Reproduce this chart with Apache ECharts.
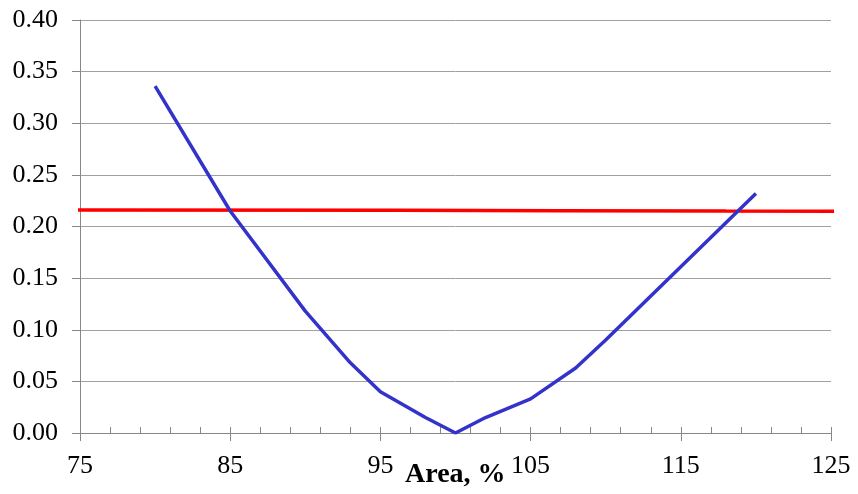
<!DOCTYPE html>
<html>
<head>
<meta charset="utf-8">
<script src="https://cdn.jsdelivr.net/npm/echarts@6/dist/echarts.min.js"></script>
<style>
  html, body { margin: 0; padding: 0; background: #fff; }
  #chart { width: 858px; height: 494px; }
</style>
</head>
<body>
<div id="chart"></div>
<script>
// blue curve: area (%) vs value
var areaX = [80, 85, 90, 93, 95, 98, 100, 102, 105, 108, 110, 115, 120];
var curveY = [0.336, 0.215, 0.118, 0.068, 0.040, 0.015, 0.000, 0.015, 0.033, 0.063, 0.090, 0.161, 0.232];

// red reference line (runs slightly past the plot edges)
var refX = [74.3, 96, 107, 118, 125.7];
var refY = [0.2161, 0.2157, 0.2153, 0.2150, 0.2148];

// axis ticks
var xTicks = [75, 85, 95, 105, 115, 125];
var xMinorTicks = [];
for (var t = 75; t <= 125; t += 2) xMinorTicks.push(t);

var font = '"Liberation Serif", "Times New Roman", serif';

function pairs(xs, ys) {
    return xs.map(function (x, i) { return [x, ys[i]]; });
}

var chart = echarts.init(document.getElementById('chart'));
chart.setOption({
    animation: false,
    // axis title sits in the label row, like the original
    title: {
        text: 'Area, %',
        left: 405,
        top: 461,
        padding: 0,
        textStyle: { fontFamily: font, fontWeight: 'bold', fontSize: 28, color: '#000' }
    },
    grid: { left: 80, right: 27, top: 20, bottom: 61, containLabel: false, outerBoundsMode: 'none' },
    xAxis: [
        {
            type: 'value',
            position: 'bottom',
            min: 75,
            max: 125,
            axisLine: { show: true, lineStyle: { color: '#888', width: 1 } },
            axisTick: { show: true, inside: false, length: 8, customValues: xTicks, lineStyle: { color: '#888' } },
            axisLabel: { customValues: xTicks, margin: 20, fontFamily: font, fontSize: 26, color: '#000' },
            splitLine: { show: false }
        },
        {
            type: 'value',
            position: 'bottom',
            min: 75,
            max: 125,
            axisLine: { show: false },
            axisTick: { show: true, inside: true, length: 6, customValues: xMinorTicks, lineStyle: { color: '#888' } },
            axisLabel: { show: false },
            splitLine: { show: false }
        }
    ],
    yAxis: {
        type: 'value',
        min: 0,
        max: 0.4,
        interval: 0.05,
        axisLine: { show: true, lineStyle: { color: '#888', width: 1 } },
        axisTick: { show: true, inside: false, length: 8, lineStyle: { color: '#888' } },
        axisLabel: {
            margin: 22,
            fontFamily: font,
            fontSize: 26,
            color: '#000',
            formatter: function (v) { return v.toFixed(2); }
        },
        splitLine: { show: true, lineStyle: { color: '#a0a0a0', width: 1 } }
    },
    series: [
        {
            type: 'line',
            data: pairs(areaX, curveY),
            showSymbol: false,
            lineStyle: { color: '#3333cc', width: 3.5 },
            z: 3
        },
        {
            type: 'line',
            data: pairs(refX, refY),
            showSymbol: false,
            clip: false,
            lineStyle: { color: '#ff0000', width: 3.5 },
            z: 2
        }
    ]
});
</script>
</body>
</html>
